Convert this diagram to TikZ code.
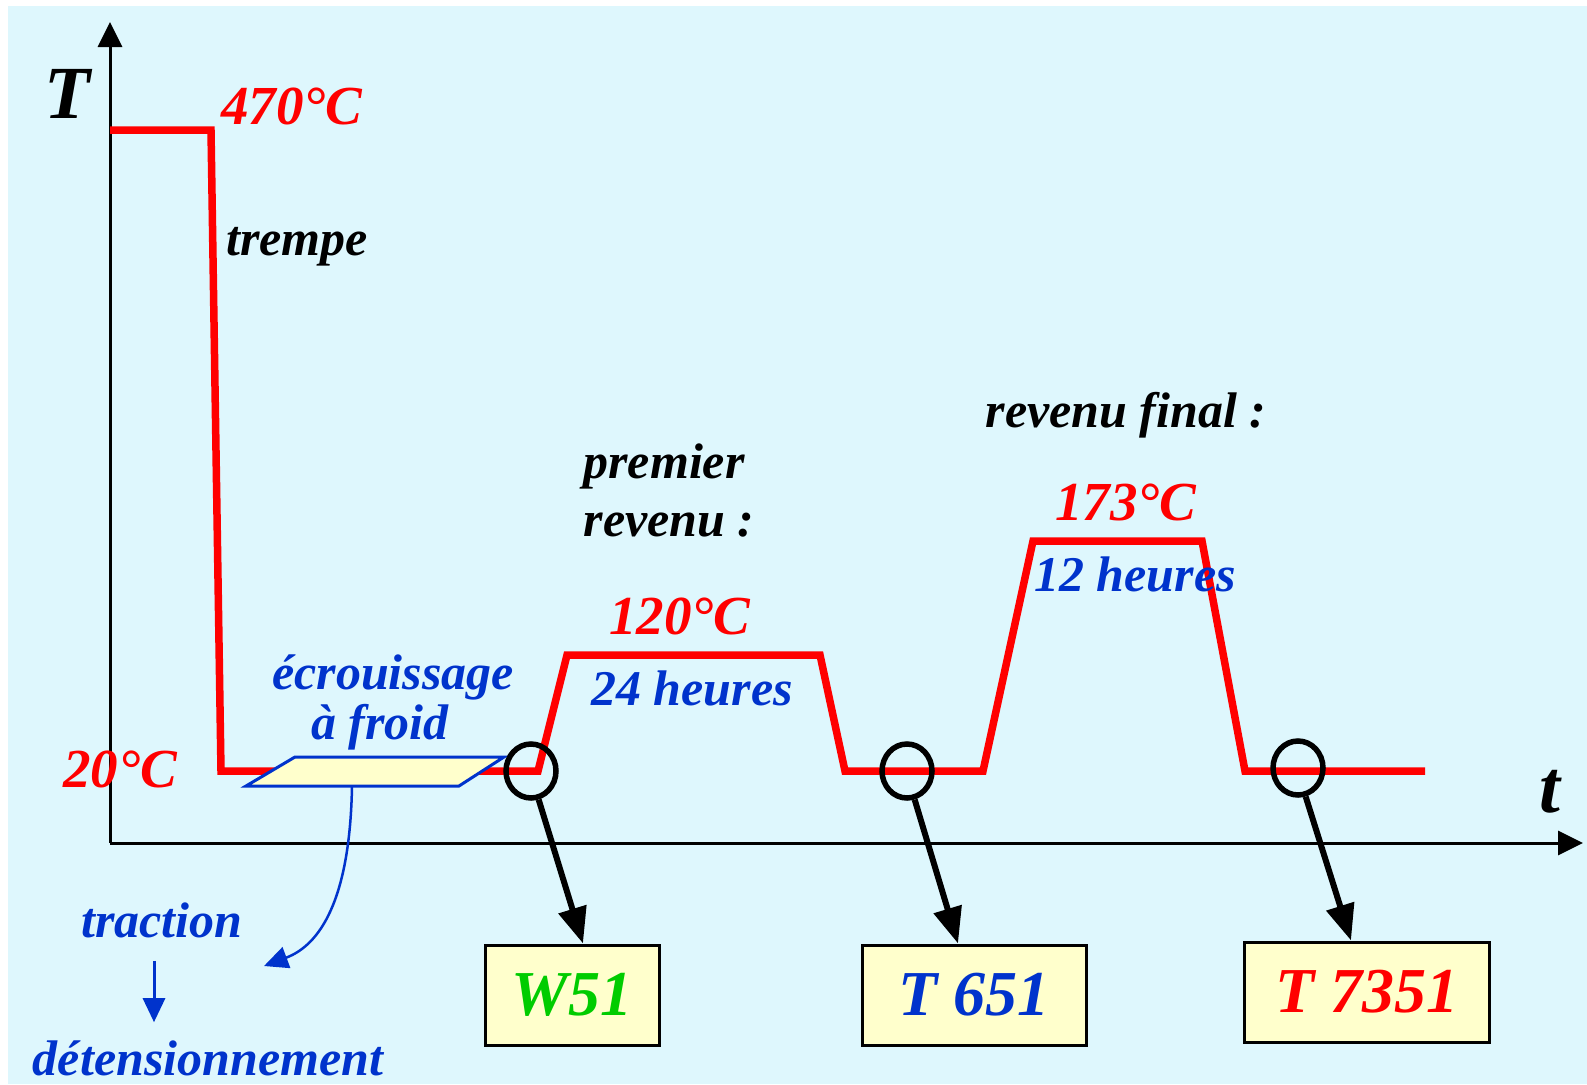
\documentclass[tikz,border=0pt]{standalone}
\usepackage{fontspec}
\setmainfont{Liberation Serif}
\usepackage{tikz}
\usetikzlibrary{arrows.meta, shapes.geometric}
\definecolor{bgcyan}{RGB}{222,247,253}
\definecolor{curvered}{RGB}{255,0,0}
\definecolor{noteblue}{RGB}{0,51,204}
\definecolor{stategreen}{RGB}{0,204,0}
\definecolor{boxyellow}{RGB}{255,255,204}
\newcommand{\axisfont}{\fontsize{75}{80}\selectfont}
\newcommand{\tempfont}{\fontsize{55}{60}\selectfont}
\newcommand{\notefont}{\fontsize{50}{55}\selectfont}
\newcommand{\statefont}{\fontsize{64}{70}\selectfont}
\tikzset{
	note/.style={font=\notefont\bfseries\itshape, inner sep=0pt},
	temp/.style={font=\tempfont\bfseries\itshape, text=curvered, inner sep=0pt},
	profile/.style={curvered, line width=7.5pt},
	ringmark/.style={ellipse, draw, line width=5.5pt, minimum width=50pt, minimum height=54pt, inner sep=0pt},
	gradebox/.style={rectangle, draw, line width=3pt, fill=boxyellow, minimum height=100pt, inner sep=0pt, font=\statefont\bfseries\itshape},
	pointer/.style={-{Triangle[length=36pt,width=28pt]}, line width=6pt},
	axisline/.style={-{Triangle[length=25pt,width=24pt]}, line width=3pt},
	tipblue/.style={-{Triangle[length=24pt,width=22pt]}, noteblue, line width=2.5pt},
}

\begin{document}
\begin{tikzpicture}[x=1pt, y=-1pt]
	\useasboundingbox (0,0) rectangle (1587,1084);
	\fill[bgcyan] (8,6) rectangle (1587,1084);

	% the axes
	\coordinate (origin) at (110,843);
	\coordinate (ytip) at (110,22);
	\coordinate (xtip) at (1583,843);
	\draw[axisline] (origin) -- (ytip);
	\draw[axisline] (origin) -- (xtip);
	\node[inner sep=0pt, font=\axisfont\bfseries\itshape] (Tlabel) at (67,94) {T};
	\node[inner sep=0pt, font=\axisfont\bfseries\itshape] (tlabel) at (1550,792) {t};

	% the heat treatment profile
	\draw[profile] (110,130) -- (211,130) -- (221,771) -- (538,771) -- (567,655) -- (820,655)
		-- (845,771) -- (983,771) -- (1033,541) -- (1202,541) -- (1245,771) -- (1425,771);

	% the cold working step
	\filldraw[fill=boxyellow, draw=noteblue, line width=3pt] (246,786) -- (295,757) -- (504,757) -- (459,786) -- cycle;
	\coordinate (stretch) at (352,786);
	\coordinate (stretchend) at (264,966);
	\draw[tipblue] (stretch) .. controls (350,900) and (320,945) .. (stretchend);

	% the labels
	\node[temp] (t470) at (292,106) {470°C};
	\node[note] (quench) at (297,247) {trempe};
	\node[temp] (t20) at (120,769) {20°C};
	\node[note, text=noteblue] (ecr) at (393,677) {écrouissage};
	\node[note, text=noteblue] (froid) at (380,727) {à froid};
	\node[note] (first) at (664,466) {premier};
	\node[note] (firstb) at (669,525) {revenu :};
	\node[temp] (t120) at (680,616) {120°C};
	\node[note, text=noteblue] (h24) at (692,688) {24 heures};
	\node[note] (final) at (1126,415) {revenu final :};
	\node[temp] (t173) at (1126,502) {173°C};
	\node[note, text=noteblue] (h12) at (1135,574) {12 heures};
	\node[note, text=noteblue] (traction) at (162,920) {traction};
	\node[note, text=noteblue] (detens) at (208,1058) {détensionnement};
	\draw[tipblue, line width=3pt, shorten <=23pt, shorten >=18pt]
		([xshift=-8pt]traction.south) -- ([xshift=-8pt]traction.south |- detens.north);

	% the grade boxes
	\node[gradebox, minimum width=174pt, text=stategreen] (w51) at (572,995) {W51};
	\node[gradebox, minimum width=224pt, text=noteblue] (t651) at (974,995) {T 651};
	\node[gradebox, minimum width=245pt, text=curvered] (t7351) at (1367,992) {T 7351};

	% the rings and arrows
	\node[ringmark] (ring1) at (531,771) {};
	\node[ringmark] (ring2) at (907,771) {};
	\node[ringmark] (ring3) at (1298,768) {};
	\draw[pointer] (ring1.-75) -- ([xshift=11pt]w51.north);
	\draw[pointer] (ring2.-75) -- ([xshift=-16pt]t651.north);
	\draw[pointer] (ring3.-75) -- ([xshift=-16pt]t7351.north);
\end{tikzpicture}
\end{document}
